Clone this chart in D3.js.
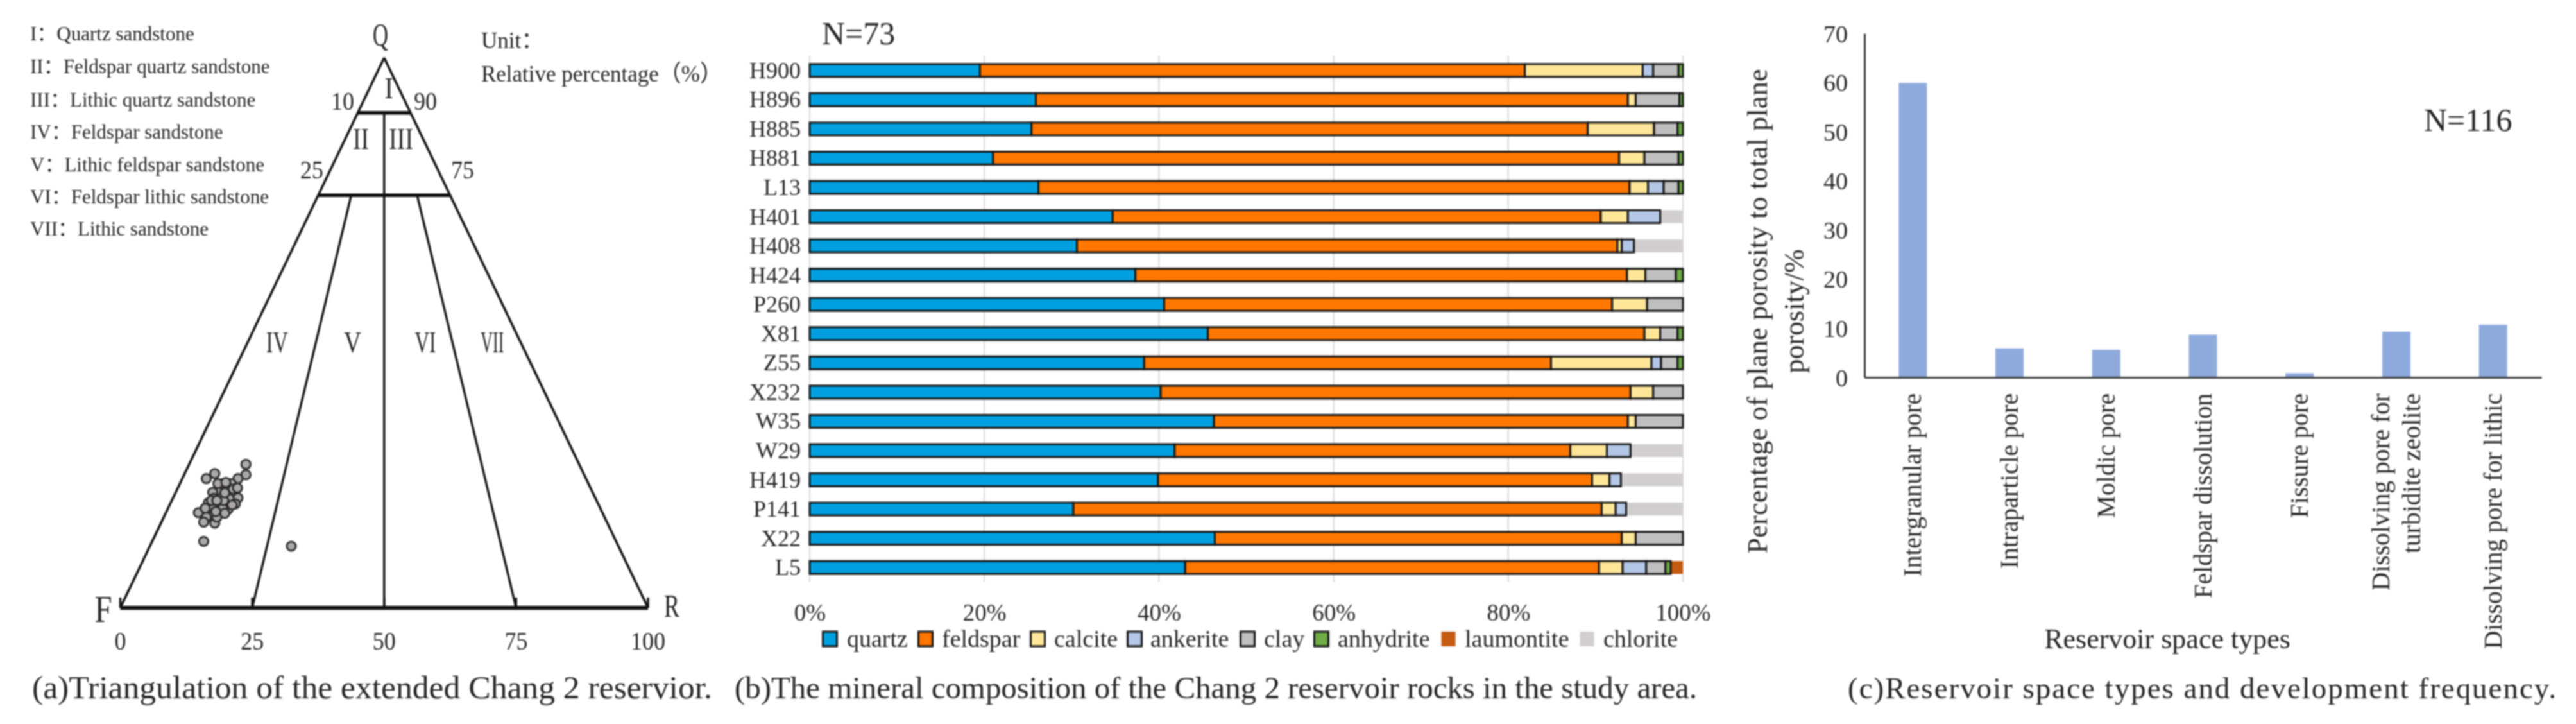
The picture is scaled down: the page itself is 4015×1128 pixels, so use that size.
<!DOCTYPE html>
<html><head><meta charset="utf-8">
<script src="https://cdn.jsdelivr.net/npm/d3@7/dist/d3.min.js"></script>
<style>
html,body{margin:0;padding:0;background:#fff}
svg{display:block;filter:blur(0.9px)}
text{font-family:"Liberation Serif","Noto Sans CJK SC",serif;fill:#262626}
</style></head><body>
<svg id="c" width="4015" height="1128"></svg>
<script>
// ---------- Panel (a) data
const classNotes=["I：Quartz sandstone","II：Feldspar quartz sandstone","III：Lithic quartz sandstone","IV：Feldspar sandstone","V：Lithic feldspar sandstone","VI：Feldspar lithic sandstone","VII：Lithic sandstone"];
const fieldNames=["I","II","III","IV","V","VI","VII"];
const fieldBase=[50.9,45.6,53.2,29.7,44,57.8,70.5];
const fieldQuartz=[94.4,85.2,85.2,48.2,48.2,48.2,48.2];
const sidePercent=[10,90,25,75];
const baseTicks=[0,25,50,75,100];
const pointBase=[23.8,23.8,22.3,17.9,16.3,14.8,16.3,15.8,17.9,18.3,18.3,20.4,22.3,21.8,20.4,16.7,18.7,19.4,21.0,18.5,17.5,21.4,20.6,19.0,17.5,16.1,19.4,19.6,17.7,19.8,17.3,22.2,20.0,18.1,19.8,21.2,18.3,15.8,32.4];
const pointQuartz=[26.1,24.2,23.5,24.4,23.5,17.3,16.5,15.6,15.4,16.5,18.2,21.7,20.0,18.9,17.9,19.1,21.0,22.6,22.6,22.6,21.0,21.6,19.9,19.9,18.1,18.1,18.1,19.5,19.9,20.9,19.5,21.8,22.8,17.5,17.2,18.7,19.5,12.1,11.2];

// ---------- Panel (b) data
const wells=["H900","H896","H885","H881","L13","H401","H408","H424","P260","X81","Z55","X232","W35","W29","H419","P141","X22","L5"];
const minerals=["quartz","feldspar","calcite","ankerite","clay","anhydrite","laumontite","chlorite"];
const mineralColors=["#00A0E0","#FF7700","#FFE699","#B4C7E7","#BFBFBF","#70AD47","#C55A11","#D0CECE"];
const quartz=[19.5,25.9,25.4,21.0,26.2,34.7,30.6,37.3,40.6,45.6,38.3,40.2,46.3,41.8,39.9,30.2,46.4,43.0];
const feldspar=[62.4,67.8,63.7,71.7,67.7,55.9,61.9,56.3,51.3,50.0,46.6,53.8,47.4,45.3,49.7,60.5,46.6,47.4];
const calcite=[13.5,0.9,7.6,2.9,2.1,3.1,0.5,2.1,4.0,1.8,11.5,2.6,0.9,4.2,2.0,1.6,1.6,2.7];
const ankerite=[1.2,0,0,0,1.8,3.7,1.4,0,0,0,1.1,0,0,2.7,1.3,1.2,0,2.7];
const clay=[2.9,5.0,2.7,3.9,1.7,0,0,3.5,4.1,2.0,1.9,3.4,5.4,0,0,0,5.4,2.2];
const anhydrite=[0.5,0.4,0.6,0.5,0.5,0,0,0.8,0,0.6,0.6,0,0,0,0,0,0,0.6];
const laumontite=[0,0,0,0,0,0,0,0,0,0,0,0,0,0,0,0,0,1.4];
const chlorite=[0,0,0,0,0,2.6,5.6,0,0,0,0,0,0,6.0,7.1,6.5,0,0];
const mineralSeries=[quartz,feldspar,calcite,ankerite,clay,anhydrite,laumontite,chlorite];
const percentTicks=[0,20,40,60,80,100];

// ---------- Panel (c) data
const poreTypes=["Intergranular pore","Intraparticle pore","Moldic pore","Feldspar dissolution","Fissure pore","Dissolving pore for|turbidite zeolite","Dissolving pore for lithic"];
const poreValues=[59.9,5.9,5.6,8.7,0.85,9.3,10.7];
const poreTicks=[0,10,20,30,40,50,60,70];

const svg=d3.select("#c");
function label(g,x,y,t,size,anchor){
  return g.append("text").attr("x",x).attr("y",y).attr("font-size",size)
    .attr("text-anchor",anchor||"middle").attr("dominant-baseline","central").text(t);
}
const squeeze=(sel,w)=>sel.attr("textLength",w).attr("lengthAdjust","spacingAndGlyphs");

// ========== (a) ==========
const A=svg.append("g");
const tx=d3.scaleLinear().domain([0,100]).range([187.5,1010]);
const ty=d3.scaleLinear().domain([0,100]).range([947,90]);
const onRay=(b,q)=>[tx(b+(50-b)*q/100),ty(q)];
const seg=(p,q,w)=>A.append("line").attr("x1",p[0]).attr("y1",p[1]).attr("x2",q[0]).attr("y2",q[1]).attr("stroke","#111").attr("stroke-width",w);
seg(onRay(0,0),onRay(0,100),3.6);
seg(onRay(100,0),onRay(100,100),3.6);
seg(onRay(0,0),onRay(100,0),6.5);
seg(onRay(0,90),onRay(100,90),5.5);
seg(onRay(0,75),onRay(100,75),5.5);
seg(onRay(50,0),onRay(50,90),3.4);
seg(onRay(25,0),onRay(25,75),3.4);
seg(onRay(75,0),onRay(75,75),3.4);
baseTicks.forEach(b=>{const p=onRay(b,0);seg([p[0],p[1]],[p[0],p[1]-16],3.4);});
A.selectAll("circle").data(pointBase).join("circle")
  .attr("cx",d=>tx(d)).attr("cy",(d,i)=>ty(pointQuartz[i])).attr("r",7.2)
  .attr("fill","#aaa8a8").attr("stroke","#2a2a2a").attr("stroke-width",2.8);
classNotes.forEach((t,i)=>label(A,47,[52,103,155,205,256,306,356][i],t,31,"start"));
label(A,750,63,"Unit：",35,"start");
squeeze(label(A,750,115,"Relative percentage（%）",36,"start"),376);
squeeze(label(A,593,54,"Q",50),24);
[[534,157],[663,157],[486,264],[721,264]].forEach((p,i)=>squeeze(label(A,p[0],p[1],sidePercent[i],40),36));
const fieldWidths=[14,25,38,34,27,33,36];
fieldNames.forEach((f,i)=>squeeze(label(A,tx(fieldBase[i]),ty(fieldQuartz[i]),f,46),fieldWidths[i]));
squeeze(label(A,161,949,"F",60),27);
squeeze(label(A,1047,944,"R",50),24);
baseTicks.forEach(b=>squeeze(label(A,tx(b),998,b,40),String(b).length*18));
squeeze(label(A,50,1071,"(a)Triangulation of the extended Chang 2 reservior.",50,"start"),1060);

// ========== (b) ==========
const B=svg.append("g");
const bx=d3.scaleLinear().domain([0,100]).range([1262,2623]);
const by=d3.scaleBand().domain(wells).range([87,907]);
B.append("g").selectAll("line").data(percentTicks).join("line")
  .attr("x1",d=>bx(d)).attr("x2",d=>bx(d)).attr("y1",87).attr("y2",907)
  .attr("stroke","#dedede").attr("stroke-width",2.4);
const stackRows=wells.map((w,i)=>{const r={well:w};minerals.forEach((m,k)=>r[m]=mineralSeries[k][i]);return r;});
const stacked=d3.stack().keys(minerals)(stackRows);
[7,6,0,1,2,3,4,5].forEach(k=>{
  const outlined=k<6;
  B.append("g").selectAll("rect").data(stacked[k].filter(d=>d[1]-d[0]>0)).join("rect")
    .attr("x",d=>bx(d[0])).attr("width",d=>bx(d[1])-bx(d[0]))
    .attr("y",d=>by(d.data.well)+by.bandwidth()/2-10).attr("height",20)
    .attr("fill",mineralColors[k]).attr("stroke",outlined?"#151515":"none").attr("stroke-width",outlined?3:0);
});
const bAxis=B.append("g").attr("transform","translate(0,954)")
  .call(d3.axisBottom(bx).tickValues(percentTicks).tickFormat(d=>d+"%").tickSize(0).tickPadding(0));
bAxis.select(".domain").remove();
bAxis.selectAll("text").attr("font-size",37).attr("dy",0).attr("dominant-baseline","central");
const bLeft=B.append("g").attr("transform","translate(1248,0)")
  .call(d3.axisLeft(by).tickSize(0).tickPadding(0));
bLeft.select(".domain").remove();
bLeft.selectAll("text").attr("font-size",36).attr("dy",0).attr("dominant-baseline","central");
label(B,1281,52,"N=73",50,"start");
const swatchX=[1281,1430,1605,1756,1932,2047,2245,2461];
const legendTextX=[1320,1468,1643,1793,1970,2085,2283,2499];
minerals.forEach((m,i)=>{
  const outlined=i<6;
  B.append("rect").attr("x",swatchX[i]+1.5).attr("y",984).attr("width",22).attr("height",23)
    .attr("fill",mineralColors[i]).attr("stroke",outlined?"#151515":"none").attr("stroke-width",3);
  label(B,legendTextX[i],995,m,38,"start");
});
squeeze(label(B,1145,1071,"(b)The mineral composition of the Chang 2 reservoir rocks in the study area.",49,"start"),1500);

// ========== (c) ==========
const C=svg.append("g");
const cx=d3.scaleBand().domain(poreTypes).range([2906,3961]);
const cy=d3.scaleLinear().domain([0,70]).range([588,52]);
const barW=44;
C.append("g").selectAll("rect").data(poreValues).join("rect")
  .attr("x",(d,i)=>cx(poreTypes[i])+cx.bandwidth()/2-barW/2).attr("width",barW)
  .attr("y",d=>cy(d)).attr("height",d=>cy(0)-cy(d)).attr("fill","#8FAADC");
const cLeft=C.append("g").attr("transform","translate(2906,0)")
  .call(d3.axisLeft(cy).tickValues(poreTicks).tickSize(0).tickPadding(26));
cLeft.select(".domain").attr("stroke","#222").attr("stroke-width",2.6);
cLeft.selectAll("text").attr("font-size",38).attr("dy",0).attr("dominant-baseline","central");
const cBot=C.append("g").attr("transform","translate(0,588)")
  .call(d3.axisBottom(cx).tickSize(0).tickFormat(""));
cBot.select(".domain").attr("stroke","#222").attr("stroke-width",2.6);
poreTypes.forEach(t=>{
  const lines=t.split("|"), mid=cx(t)+cx.bandwidth()/2;
  lines.forEach((ln,i)=>{
    const x=mid+(i-(lines.length-1)/2)*48;
    C.append("text").attr("transform",`translate(${x},613) rotate(-90)`)
      .attr("font-size",39.5).attr("text-anchor","end").attr("dominant-baseline","central").text(ln);
  });
});
C.append("text").attr("transform","translate(2739,485) rotate(-90)").attr("font-size",44)
  .attr("text-anchor","middle").attr("dominant-baseline","central").attr("textLength",755).text("Percentage of plane porosity to total plane");
C.append("text").attr("transform","translate(2796,485) rotate(-90)").attr("font-size",44)
  .attr("text-anchor","middle").attr("dominant-baseline","central").text("porosity/%");
label(C,3378,995,"Reservoir space types",44);
label(C,3778,187,"N=116",50,"start");
label(C,2880,1072,"(c)Reservoir space types and development frequency.",47,"start").attr("textLength",1104);
</script>
</body></html>
